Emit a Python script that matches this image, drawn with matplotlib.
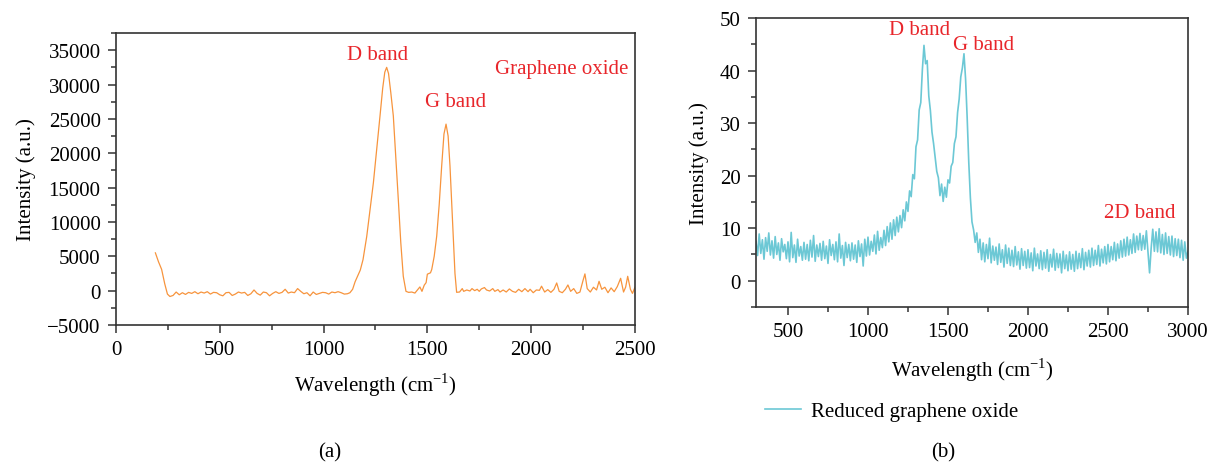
import numpy as np
import matplotlib
matplotlib.use('Agg')
from matplotlib import pyplot as plt
from matplotlib.ticker import MultipleLocator
from matplotlib.lines import Line2D

# (a) graphene oxide
go_x = [190, 205, 220, 235, 248, 260, 275, 290, 305, 320, 335, 350, 365, 380, 395,
        410, 425, 440, 455, 470, 485, 500, 515, 530, 545, 560, 575, 590, 605, 620,
        635, 650, 665, 680, 695, 710, 725, 740, 755, 770, 785, 800, 815, 830, 845,
        860, 875, 890, 905, 920, 935, 950, 965, 980, 995, 1010, 1025, 1040, 1055, 1070,
        1085, 1100, 1115, 1127, 1140, 1152, 1165, 1177, 1190, 1208, 1225, 1240, 1256, 1272, 1285,
        1295, 1304, 1313, 1324, 1336, 1348, 1360, 1372, 1384, 1397, 1410, 1425, 1440, 1455, 1464,
        1474, 1485, 1494, 1500, 1515, 1521, 1533, 1545, 1557, 1569, 1580, 1590, 1600, 1609, 1617,
        1625, 1633, 1641, 1655, 1668, 1675, 1690, 1705, 1715, 1728, 1740, 1750, 1760, 1775, 1785,
        1800, 1815, 1825, 1840, 1850, 1865, 1880, 1895, 1910, 1925, 1940, 1955, 1970, 1985, 1995,
        2010, 2025, 2040, 2050, 2065, 2080, 2095, 2110, 2123, 2135, 2150, 2165, 2177, 2190, 2205,
        2220, 2235, 2250, 2259, 2270, 2285, 2300, 2315, 2327, 2340, 2355, 2370, 2385, 2400, 2415,
        2431, 2445, 2455, 2465, 2478, 2488, 2500]
go_y = [5500, 4200, 3100, 1000, -500, -850, -700, -200, -600, -300, -550, -250, -400, -150, -450,
        -200, -350, -150, -500, -250, -300, -600, -750, -300, -250, -700, -500, -200, -350, -250,
        -700, -450, 100, -400, -650, -200, -300, -750, -400, -150, -400, -250, 200, -350, -200,
        -300, 300, -100, -450, -300, -750, -200, -550, -400, -250, -300, -500, -200, -300, -150,
        -300, -500, -450, -300, 200, 1300, 2200, 3000, 4500, 7900, 12000, 15700, 20500, 25450, 29500,
        31800, 32500, 31600, 28800, 25450, 19500, 13300, 7000, 2090, -100, -250, -200, -350, 200, 540,
        -100, 800, 1170, 2400, 2600, 3070, 5000, 7930, 12500, 18150, 22800, 24240, 22500, 18150, 13000,
        7930, 2500, -240, -200, 300, -100, 100, -50, 300, 0, 200, -100, 250, 450, 100,
        -50, 300, -100, 150, -200, 100, -200, 250, -100, -250, 200, -150, 300, -150, 200,
        -300, 100, 50, 650, -200, 150, -250, 200, 1120, -100, -300, 200, 830, -100, 300,
        -400, -200, 1500, 2440, 300, -200, 500, 100, 1360, 200, 500, -300, 400, -150, 600,
        1800, -200, 500, 2090, 200, -400, 500]

# (b) reduced graphene oxide, one reading every 10 cm-1 from 300 to 3000
rgo_x = np.arange(300, 3001, 10)
rgo_y = [7.5, 4.8, 8.9, 5.2, 7.8, 4.1, 8.2, 5.6, 9.1, 4.9,
         7.6, 4.3, 8.4, 5.0, 7.2, 3.9, 8.0, 5.5, 6.9, 4.2,
         7.4, 3.6, 9.2, 4.4, 6.8, 3.5, 7.9, 4.7, 6.5, 3.9,
         7.3, 4.1, 6.9, 3.8, 7.7, 4.5, 8.6, 3.7, 6.8, 4.6,
         7.1, 3.9, 7.5, 4.2, 6.6, 3.3, 7.8, 4.8, 6.9, 4.0,
         7.4, 3.6, 8.9, 4.3, 6.7, 2.9, 7.3, 4.4, 6.9, 3.8,
         7.2, 4.1, 6.8, 3.5, 7.6, 4.6, 7.0, 2.8, 7.9, 4.7,
         8.3, 4.9, 7.5, 5.6, 8.7, 5.1, 9.4, 5.8, 8.2, 6.3,
         9.6, 6.7, 10.3, 7.4, 11.0, 7.9, 11.6, 8.6, 12.1, 9.3,
         12.4, 10.1, 13.5, 11.4, 15.0, 13.2, 17.1, 16.0, 20.2, 19.4,
         25.5, 26.8, 32.5, 33.9, 40.2, 44.8, 41.3, 41.9, 35.2, 32.4,
         28.3, 26.1, 23.5, 20.8, 19.6, 16.2, 18.4, 15.1, 17.8, 15.9,
         19.2, 18.6, 21.8, 22.5, 26.1, 27.4, 32.0, 34.6, 38.8, 40.5,
         43.2, 38.4, 31.0, 22.5, 15.8, 11.2, 9.7, 7.3, 9.1, 5.4,
         7.9, 4.0, 7.2, 3.6, 6.9, 4.2, 8.1, 3.4, 6.6, 3.9,
         6.4, 3.1, 7.0, 3.5, 5.9, 2.6, 6.8, 3.3, 6.2, 2.9,
         5.8, 2.7, 6.5, 3.0, 5.5, 2.2, 6.1, 2.9, 5.6, 2.4,
         5.9, 2.5, 5.3, 1.9, 6.2, 2.8, 5.1, 2.3, 5.7, 2.1,
         5.4, 2.4, 5.9, 1.8, 5.0, 2.6, 6.0, 2.0, 5.2, 2.5,
         5.1, 1.5, 5.6, 2.3, 4.9, 1.9, 5.5, 2.2, 5.0, 1.8,
         5.6, 2.3, 5.2, 2.5, 6.1, 2.1, 5.4, 2.8, 5.8, 2.6,
         6.2, 2.9, 5.8, 3.1, 6.7, 2.8, 6.0, 3.4, 6.5, 3.2,
         6.9, 3.6, 6.5, 4.0, 7.3, 3.8, 7.0, 4.3, 7.6, 4.5,
         7.9, 4.7, 8.3, 4.9, 7.8, 5.2, 8.9, 5.4, 8.5, 5.9,
         9.0, 5.8, 8.6, 6.0, 9.5, 5.4, 1.5, 6.2, 9.8, 5.6,
         9.3, 5.5, 9.9, 5.3, 8.8, 5.0, 9.1, 5.2, 8.4, 4.9,
         8.5, 4.6, 8.0, 4.8, 7.9, 4.4, 7.7, 3.9, 7.4, 4.3,
         5.6]

red = '#e8262b'
orange = '#f7943d'
cyan = '#6cc8d5'
fs = 15

plt.rcParams['font.family'] = ['Liberation Serif', 'DejaVu Serif']
plt.rcParams['mathtext.fontset'] = 'custom'
plt.rcParams['mathtext.rm'] = 'Liberation Serif'
plt.rcParams['font.size'] = fs

f = plt.figure(figsize=(12.09, 4.64), dpi=100)
ax1 = f.add_axes([0.0959, 0.2974, 0.4293, 0.6293])
ax2 = f.add_axes([0.6253, 0.3362, 0.3573, 0.6228])

for ax in (ax1, ax2):
    for s in ax.spines.values():
        s.set_linewidth(1.2)
        s.set_color('#333333')
    ax.tick_params(which='major', direction='out', length=6, width=1.1, color='#333333',
                   labelsize=fs, pad=5, top=False, right=False)
    ax.tick_params(which='minor', direction='out', length=3.5, width=1.1, color='#333333',
                   top=False, right=False)

# panel (a)
ax1.plot(go_x, go_y, color=orange, lw=0.9)
ax1.set_xlim([0, 2500])
ax1.set_ylim([-5000, 37500])
ax1.xaxis.set_major_locator(MultipleLocator(500))
ax1.xaxis.set_minor_locator(MultipleLocator(250))
ax1.yaxis.set_major_locator(MultipleLocator(5000))
ax1.yaxis.set_minor_locator(MultipleLocator(2500))
ax1.set_xlabel('Wavelength (cm$^{-1}$)', fontsize=fs, labelpad=8)
ax1.set_ylabel('Intensity (a.u.)', fontsize=fs, labelpad=8)
ax1.text(1262, 34300, 'D band', color=red, ha='center', va='center', fontsize=fs)
ax1.text(1638, 27600, 'G band', color=red, ha='center', va='center', fontsize=fs)
ax1.text(2148, 32300, 'Graphene oxide', color=red, ha='center', va='center', fontsize=fs)

# panel (b)
ax2.plot(rgo_x, rgo_y, color=cyan, lw=1.2)
ax2.set_xlim([300, 3000])
ax2.set_ylim([-5, 50])
ax2.xaxis.set_major_locator(MultipleLocator(500))
ax2.xaxis.set_minor_locator(MultipleLocator(250))
ax2.yaxis.set_major_locator(MultipleLocator(10))
ax2.yaxis.set_minor_locator(MultipleLocator(5))
ax2.set_xlabel('Wavelength (cm$^{-1}$)', fontsize=fs, labelpad=10)
ax2.set_ylabel('Intensity (a.u.)', fontsize=fs, labelpad=8)
ax2.text(1323, 47.9, 'D band', color=red, ha='center', va='center', fontsize=fs)
ax2.text(1722, 45.0, 'G band', color=red, ha='center', va='center', fontsize=fs)
ax2.text(2701, 12.9, '2D band', color=red, ha='center', va='center', fontsize=fs)

h = [Line2D([], [], color=cyan, lw=1.2)]
f.legend(h, ['Reduced graphene oxide'], loc='center left', frameon=False,
         bbox_to_anchor=(746 / 1209, 1 - 412 / 464), handlelength=1.75,
         handletextpad=0.45, fontsize=fs)

f.text(330 / 1209, 1 - 453 / 464, '(a)', ha='center', va='center', fontsize=fs)
f.text(943 / 1209, 1 - 453 / 464, '(b)', ha='center', va='center', fontsize=fs)

f.savefig('out.png', dpi=100)
